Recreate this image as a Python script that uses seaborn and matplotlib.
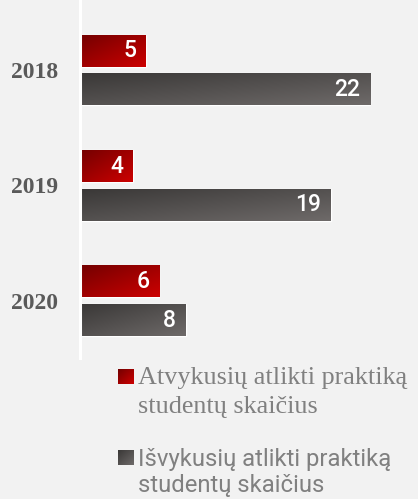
import numpy as np
import pandas as pd
import matplotlib
matplotlib.use("Agg")
import matplotlib.pyplot as plt
import seaborn as sns
from matplotlib.colors import LinearSegmentedColormap

years = ["2018", "2019", "2020"]
atvykusiu = [5, 4, 6]
isvykusiu = [22, 19, 8]
series_names = ["Atvykusių atlikti praktiką\nstudentų skaičius",
                "Išvykusių atlikti praktiką\nstudentų skaičius"]

BG = "#f2f2f2"
red_cmap = LinearSegmentedColormap.from_list("r", ["#740000", "#cc0000"])
gray_cmap = LinearSegmentedColormap.from_list("g", ["#3a3837", "#6e6a69"])

df = pd.DataFrame({
    "year": years * 2,
    "value": atvykusiu + isvykusiu,
    "series": [series_names[0]] * 3 + [series_names[1]] * 3,
})

sns.set_style("white")
W, H = 418, 499
fig = plt.figure(figsize=(W / 100, H / 100), dpi=100, facecolor=BG)
ax = fig.add_axes([80 / W, (H - 358) / H, 330 / W, 358 / H])
ax.set_facecolor(BG)

sns.barplot(data=df, y="year", x="value", hue="series", orient="h",
            palette=["#a00000", "#555352"], width=0.667, gap=0.18,
            legend=False, ax=ax, saturation=1)

ax.set_xlim(0, 25)
ax.set_ylim(2.494, -0.606)
ax.set_xlabel("")
ax.set_ylabel("")
ax.set_xticks([])
for s in ["top", "right", "bottom"]:
    ax.spines[s].set_visible(False)
ax.spines["left"].set_color("white")
ax.spines["left"].set_linewidth(2.2)
ax.spines["left"].set_zorder(5)
ax.tick_params(axis="y", length=0, pad=16)
for lab in ax.get_yticklabels():
    lab.set_fontfamily("Liberation Serif")
    lab.set_fontweight("bold")
    lab.set_fontsize(17)
    lab.set_color("#5a5a5a")

def grad(nx, ny):
    u = np.linspace(0, 1, nx)[None, :]
    v = np.linspace(0, 1, ny)[:, None]
    return (u + v) / 2

patches = list(ax.patches)
for i, p in enumerate(patches):
    x0, y0 = p.get_x(), p.get_y()
    w, h = p.get_width(), p.get_height()
    cmap = red_cmap if i < 3 else gray_cmap
    ax.imshow(grad(300, 40), cmap=cmap, extent=(x0, x0 + w, y0 + h, y0),
              origin="upper", aspect="auto", clip_path=p, clip_on=True,
              zorder=3, interpolation="bilinear", vmin=0, vmax=1)
    ax.text(x0 + w - 0.75, y0 + h / 2, f"{int(w)}", ha="right", va="center",
            color="white", fontsize=16.5, fontfamily="Roboto",
            fontweight="medium", zorder=6)

ax.set_xlim(0, 25)
ax.set_ylim(2.494, -0.606)

# legend
def legend_square(x, y, cmap):
    s = 15
    axl = fig.add_axes([x / W, (H - y - s) / H, s / W, s / H])
    axl.imshow(grad(30, 30), cmap=cmap, aspect="auto", vmin=0, vmax=1)
    axl.set_axis_off()

legend_square(118, 369, red_cmap)
legend_square(118, 450, gray_cmap)

for line, base in zip(series_names[0].split("\n"), [384, 413]):
    fig.text(138 / W, 1 - base / H, line, ha="left", va="baseline",
             fontsize=18.8, fontfamily="Liberation Serif", color="#808080")
for line, base in zip(series_names[1].split("\n"), [466, 492]):
    fig.text(138 / W, 1 - base / H, line, ha="left", va="baseline",
             fontsize=17.2, fontfamily="Roboto", color="#808080")

fig.savefig("out.png", dpi=100, facecolor=BG)
